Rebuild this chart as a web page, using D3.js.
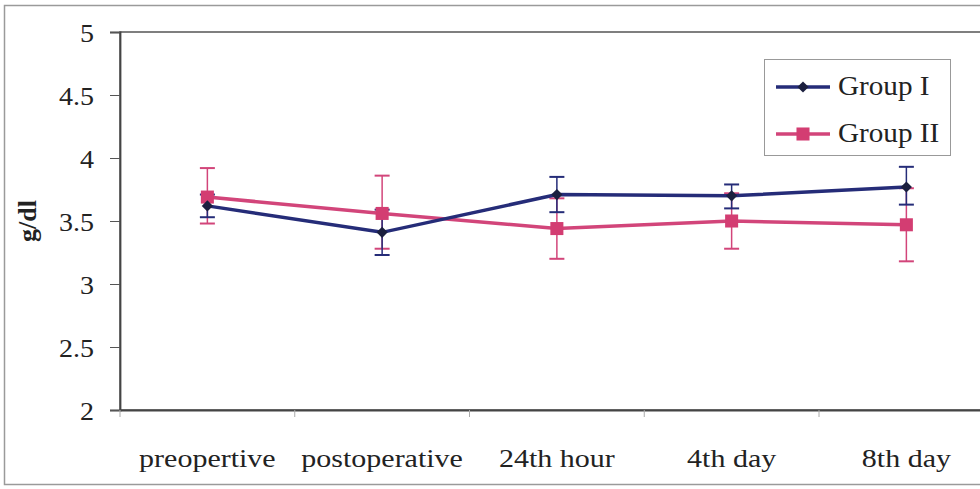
<!DOCTYPE html>
<html>
<head>
<meta charset="utf-8">
<script src="https://cdn.jsdelivr.net/npm/d3@7"></script>
<style>
  body { margin: 0; background: #fff; }
  svg text { font-family: "Liberation Serif", "Times New Roman", serif; }
</style>
</head>
<body>
<div id="chart"></div>
<script>
// data
const categories = ["preopertive", "postoperative", "24th hour", "4th day", "8th day"];
const groupNames = ["Group I", "Group II"];
const group1 = [3.62, 3.41, 3.71, 3.70, 3.77];
const group1Low = [3.53, 3.23, 3.57, 3.60, 3.63];
const group1High = [3.71, 3.59, 3.85, 3.79, 3.93];
const group2 = [3.69, 3.56, 3.44, 3.50, 3.47];
const group2Low = [3.48, 3.28, 3.20, 3.28, 3.18];
const group2High = [3.92, 3.86, 3.68, 3.72, 3.76];
const yTicks = [2, 2.5, 3, 3.5, 4, 4.5, 5];

function setupChart() {
    const width = 980
    const height = 489
    const margin = {left: 120, top: 32, bottom: 79}
    const bandW = 174.75
    const stretch = 1.2 // the scan is a bit wider than tall

    let svg = d3.select("#chart")
        .append("svg")
        .attr("width", width)
        .attr("height", height);

    // outer frame
    svg.append("rect")
        .attr("x", 4.5).attr("y", 5.5)
        .attr("width", 990).attr("height", 479)
        .attr("fill", "none")
        .attr("stroke", "#9a9a9a")
        .attr("stroke-width", 1.5);

    let x = d3.scaleBand()
        .domain(categories)
        .range([margin.left, margin.left + bandW * categories.length]);

    let y = d3.scaleLinear()
        .domain([2, 5])
        .range([height - margin.bottom, margin.top]);

    // plot area border
    svg.append("rect")
        .attr("x", margin.left).attr("y", margin.top)
        .attr("width", bandW * categories.length)
        .attr("height", y(2) - y(5))
        .attr("fill", "none")
        .attr("stroke", "#555")
        .attr("stroke-width", 1.5);

    // y axis
    let yAxis = svg.append("g")
        .attr("transform", "translate(" + margin.left + ",0)")
        .call(d3.axisLeft(y).tickValues(yTicks).tickSize(10)
            .tickFormat(d3.format("")));
    yAxis.select(".domain").attr("stroke", "#444").attr("stroke-width", 1.8);
    yAxis.selectAll(".tick line").attr("stroke", "#555");
    yAxis.selectAll(".tick text")
        .attr("x", 0).attr("dy", null).attr("y", 9)
        .attr("transform", "translate(-26,0) scale(1.12,1)")
        .style("font-size", "25px")
        .attr("fill", "#222");

    // x axis, ticks at category boundaries
    let xAxis = svg.append("g")
        .attr("transform", "translate(0," + y(2) + ")")
        .call(d3.axisBottom(x).tickSize(0));
    xAxis.select(".domain").attr("stroke", "#444").attr("stroke-width", 1.8);
    xAxis.selectAll(".tick text")
        .attr("y", 0).attr("dy", null)
        .attr("transform", "translate(0,57) scale(" + stretch + ",1)")
        .style("font-size", "25px")
        .attr("fill", "#222");
    xAxis.selectAll("line.bound")
        .data(categories)
        .enter()
        .append("line")
        .attr("class", "bound")
        .attr("x1", d => x(d)).attr("x2", d => x(d))
        .attr("y1", 0).attr("y2", 7)
        .attr("stroke", "#aaa");

    // y label
    svg.append("text")
        .attr("transform", "translate(36,221) rotate(-90)")
        .attr("text-anchor", "middle")
        .style("font-size", "26px")
        .style("font-weight", "bold")
        .attr("fill", "#222")
        .text("g/dl");

    const series = [
        {name: groupNames[1], vals: group2, lo: group2Low, hi: group2High, color: "#d2457a", mark: "square"},
        {name: groupNames[0], vals: group1, lo: group1Low, hi: group1High, color: "#252c78", mark: "diamond"}
    ];

    const cx = d => x(d) + x.bandwidth() / 2;

    // error bars
    series.forEach(function (s) {
        let g = svg.append("g");
        categories.forEach(function (c, i) {
            g.append("line")
                .attr("x1", cx(c)).attr("x2", cx(c))
                .attr("y1", y(s.lo[i])).attr("y2", y(s.hi[i]))
                .attr("stroke", s.color).attr("stroke-width", 1.5);
            [s.lo[i], s.hi[i]].forEach(function (v) {
                g.append("line")
                    .attr("x1", cx(c) - 7.5).attr("x2", cx(c) + 7.5)
                    .attr("y1", y(v)).attr("y2", y(v))
                    .attr("stroke", s.color).attr("stroke-width", 2);
            });
        });
    });

    let line = d3.line()
        .x((d, i) => cx(categories[i]))
        .y(d => y(d));

    const symSquare = d3.symbol().type(d3.symbolSquare).size(170);
    const symDiamond = d3.symbol().type(d3.symbolDiamond2).size(80);

    series.forEach(function (s) {
        svg.append("path")
            .datum(s.vals)
            .attr("d", line)
            .attr("fill", "none")
            .attr("stroke", s.color)
            .attr("stroke-width", 3.5);
        svg.selectAll("allMarks")
            .data(s.vals)
            .enter()
            .append("path")
            .attr("d", s.mark === "square" ? symSquare : symDiamond)
            .attr("transform", (d, i) => "translate(" + cx(categories[i]) + "," + y(d) + ")")
            .attr("fill", s.mark === "square" ? "#d33d72" : "#1b1f3f");
    });

    // legend
    let legend = svg.append("g");
    legend.append("rect")
        .attr("x", 764.5).attr("y", 59.5)
        .attr("width", 186).attr("height", 96)
        .attr("fill", "#fff")
        .attr("stroke", "#999");
    const legendSeries = [series[1], series[0]];
    legendSeries.forEach(function (s, i) {
        const ly = 87 + i * 47;
        legend.append("line")
            .attr("x1", 776).attr("x2", 830)
            .attr("y1", ly).attr("y2", ly)
            .attr("stroke", s.color).attr("stroke-width", 3.5);
        legend.append("path")
            .attr("d", s.mark === "square" ? symSquare : symDiamond)
            .attr("transform", "translate(803," + ly + ")")
            .attr("fill", s.mark === "square" ? "#d33d72" : "#1b1f3f");
        legend.append("text")
            .attr("transform", "translate(838," + (ly + 8) + ") scale(1.08,1)")
            .style("font-size", "27px")
            .attr("fill", "#222")
            .text(s.name);
    });
}

setupChart();
</script>
</body>
</html>
